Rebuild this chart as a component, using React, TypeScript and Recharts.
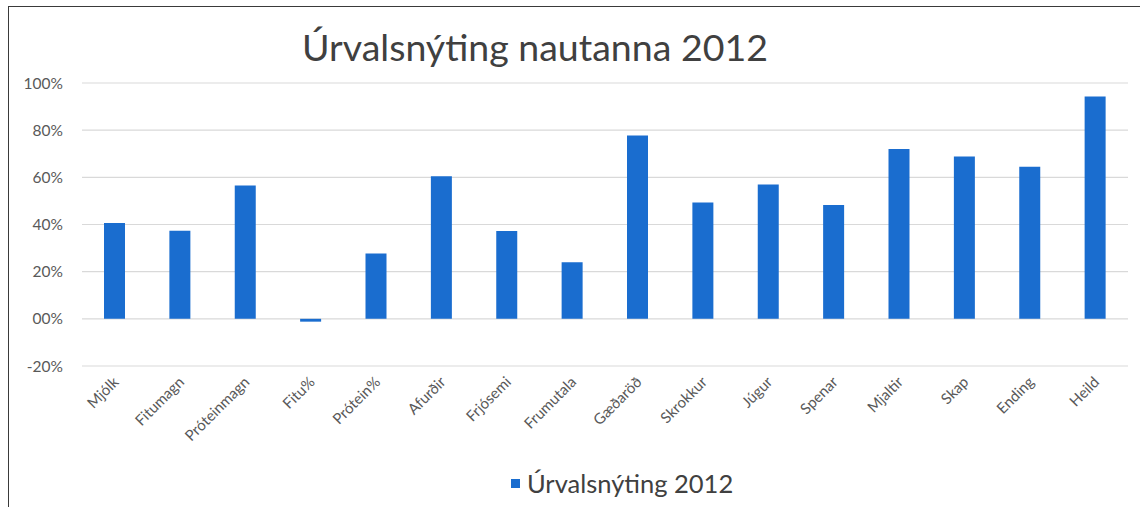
import React from "react";
import { BarChart, Bar, XAxis, YAxis, CartesianGrid } from "recharts";

const categories = [
  "Mjólk", "Fitumagn", "Próteinmagn", "Fitu%", "Prótein%", "Afurðir", "Frjósemi", "Frumutala",
  "Gæðaröð", "Skrokkur", "Júgur", "Spenar", "Mjaltir", "Skap", "Ending", "Heild",
];
const values = [40.6, 37.3, 56.5, -1.2, 27.7, 60.5, 37.2, 24, 77.7, 49.3, 57, 48.3, 72, 68.8, 64.5, 94.3];
const yTicks = [-20, 0, 20, 40, 60, 80, 100];
const seriesName = "Úrvalsnýting 2012";
const title = "Úrvalsnýting nautanna 2012";

const data = categories.map((c, i) => ({ name: c, value: values[i] }));

const FONT = "Lato, 'Open Sans', sans-serif";
const BLUE = "#1a6dcf";

const XTick = (props: any) => {
  const { x, y, payload } = props;
  const ax = x + 5;
  const ay = y + 9;
  return (
    <text
      x={ax}
      y={ay}
      textAnchor="end"
      fontFamily={FONT}
      fontSize={15}
      fill="#595959"
      transform={`rotate(-45, ${ax}, ${ay})`}
    >
      {payload.value}
    </text>
  );
};

export default function App() {
  return (
    <div style={{ position: "absolute", left: 0, top: 0, width: 1140, height: 507, background: "#fff", overflow: "hidden" }}>
      <div
        style={{
          position: "absolute",
          left: 8,
          top: 6,
          width: 1200,
          height: 600,
          borderLeft: "1.5px solid #3a3a3a",
          borderTop: "1.5px solid #3a3a3a",
        }}
      />
      <div
        style={{
          position: "absolute",
          left: 0,
          width: 1070,
          top: 24,
          textAlign: "center",
          fontFamily: FONT,
          fontSize: 37.5,
          color: "#404040",
          lineHeight: "46px",
        }}
      >
        {title}
      </div>
      <div style={{ position: "absolute", left: 0, top: 0 }}>
        <BarChart width={1140} height={507} data={data} margin={{ top: 83, right: 12, left: 0, bottom: 0 }} barSize={21}>
          <CartesianGrid vertical={false} stroke="#d9d9d9" strokeWidth={1.2} />
          <XAxis
            dataKey="name"
            interval={0}
            height={141}
            axisLine={false}
            tickLine={false}
            tick={<XTick />}
          />
          <YAxis
            width={82}
            domain={[-20, 100]}
            ticks={yTicks}
            axisLine={false}
            tickLine={false}
            tickMargin={13}
            tick={{ fontFamily: FONT, fontSize: 15.5, fill: "#595959" }}
            tickFormatter={(v: number) => (v === 0 ? "00%" : `${v}%`)}
          />
          <Bar dataKey="value" name={seriesName} fill={BLUE} isAnimationActive={false} />
        </BarChart>
      </div>
      <div
        style={{
          position: "absolute",
          left: 511,
          top: 468,
          display: "flex",
          alignItems: "center",
          fontFamily: FONT,
          fontSize: 25.5,
          color: "#404040",
        }}
      >
        <span style={{ display: "inline-block", width: 9, height: 9, background: BLUE, marginRight: 7 }} />
        <span>{seriesName}</span>
      </div>
    </div>
  );
}
